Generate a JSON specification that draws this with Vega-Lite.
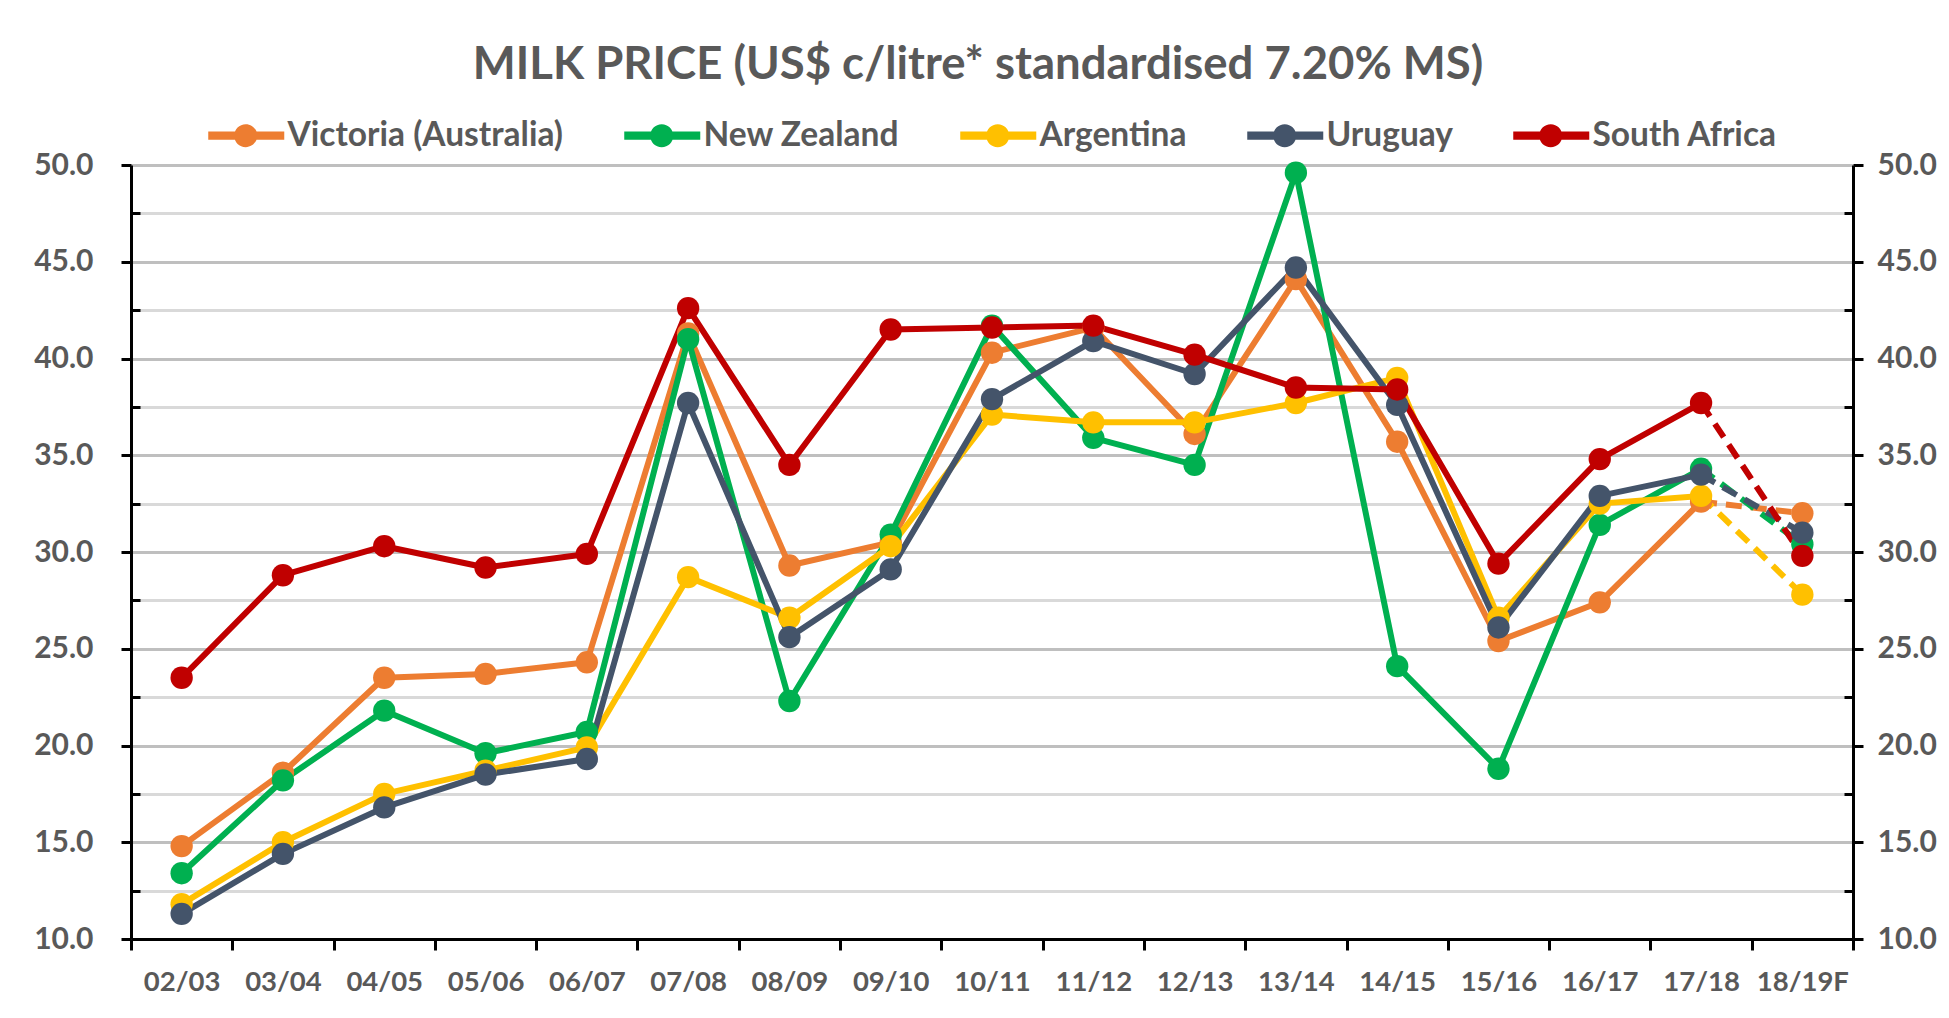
{
  "$schema": "https://vega.github.io/schema/vega-lite/v6.json",
  "width": 1722,
  "height": 774,
  "autosize": {"type": "none"},
  "padding": {"left": 131, "top": 165, "right": 96, "bottom": 79},
  "background": "white",
  "title": {
    "text": "MILK PRICE (US$ c/litre* standardised 7.20% MS)",
    "font": "Lato",
    "fontSize": 45.5,
    "fontWeight": "bold",
    "color": "#595959",
    "anchor": "middle",
    "frame": "group",
    "dx": -14,
    "offset": 30
  },
  "config": {
    "view": {"stroke": null},
    "axisX": {
      "title": null,
      "labelFont": "Lato",
      "labelFontSize": 27.5,
      "labelFontWeight": "bold",
      "labelColor": "#595959",
      "labelAngle": 0,
      "labelPadding": 18,
      "domainColor": "black",
      "domainWidth": 3,
      "tickColor": "black",
      "tickWidth": 3,
      "tickSize": 11,
      "tickBand": "extent",
      "grid": false
    }
  },
  "data": {
    "values": [
      {"s": "02/03", "c": "Victoria (Australia)", "v": 14.8},
      {"s": "03/04", "c": "Victoria (Australia)", "v": 18.6},
      {"s": "04/05", "c": "Victoria (Australia)", "v": 23.5},
      {"s": "05/06", "c": "Victoria (Australia)", "v": 23.7},
      {"s": "06/07", "c": "Victoria (Australia)", "v": 24.3},
      {"s": "07/08", "c": "Victoria (Australia)", "v": 41.3},
      {"s": "08/09", "c": "Victoria (Australia)", "v": 29.3},
      {"s": "09/10", "c": "Victoria (Australia)", "v": 30.5},
      {"s": "10/11", "c": "Victoria (Australia)", "v": 40.3},
      {"s": "11/12", "c": "Victoria (Australia)", "v": 41.6},
      {"s": "12/13", "c": "Victoria (Australia)", "v": 36.1},
      {"s": "13/14", "c": "Victoria (Australia)", "v": 44.1},
      {"s": "14/15", "c": "Victoria (Australia)", "v": 35.7},
      {"s": "15/16", "c": "Victoria (Australia)", "v": 25.4},
      {"s": "16/17", "c": "Victoria (Australia)", "v": 27.4},
      {"s": "17/18", "c": "Victoria (Australia)", "v": 32.6},
      {"s": "18/19F", "c": "Victoria (Australia)", "v": 32.0},
      {"s": "02/03", "c": "New Zealand", "v": 13.4},
      {"s": "03/04", "c": "New Zealand", "v": 18.2},
      {"s": "04/05", "c": "New Zealand", "v": 21.8},
      {"s": "05/06", "c": "New Zealand", "v": 19.6},
      {"s": "06/07", "c": "New Zealand", "v": 20.7},
      {"s": "07/08", "c": "New Zealand", "v": 41.0},
      {"s": "08/09", "c": "New Zealand", "v": 22.3},
      {"s": "09/10", "c": "New Zealand", "v": 30.9},
      {"s": "10/11", "c": "New Zealand", "v": 41.7},
      {"s": "11/12", "c": "New Zealand", "v": 35.9},
      {"s": "12/13", "c": "New Zealand", "v": 34.5},
      {"s": "13/14", "c": "New Zealand", "v": 49.6},
      {"s": "14/15", "c": "New Zealand", "v": 24.1},
      {"s": "15/16", "c": "New Zealand", "v": 18.8},
      {"s": "16/17", "c": "New Zealand", "v": 31.4},
      {"s": "17/18", "c": "New Zealand", "v": 34.3},
      {"s": "18/19F", "c": "New Zealand", "v": 30.4},
      {"s": "02/03", "c": "Argentina", "v": 11.8},
      {"s": "03/04", "c": "Argentina", "v": 15.0},
      {"s": "04/05", "c": "Argentina", "v": 17.5},
      {"s": "05/06", "c": "Argentina", "v": 18.7},
      {"s": "06/07", "c": "Argentina", "v": 19.9},
      {"s": "07/08", "c": "Argentina", "v": 28.7},
      {"s": "08/09", "c": "Argentina", "v": 26.6},
      {"s": "09/10", "c": "Argentina", "v": 30.3},
      {"s": "10/11", "c": "Argentina", "v": 37.1},
      {"s": "11/12", "c": "Argentina", "v": 36.7},
      {"s": "12/13", "c": "Argentina", "v": 36.7},
      {"s": "13/14", "c": "Argentina", "v": 37.7},
      {"s": "14/15", "c": "Argentina", "v": 39.0},
      {"s": "15/16", "c": "Argentina", "v": 26.6},
      {"s": "16/17", "c": "Argentina", "v": 32.5},
      {"s": "17/18", "c": "Argentina", "v": 32.9},
      {"s": "18/19F", "c": "Argentina", "v": 27.8},
      {"s": "02/03", "c": "Uruguay", "v": 11.3},
      {"s": "03/04", "c": "Uruguay", "v": 14.4},
      {"s": "04/05", "c": "Uruguay", "v": 16.8},
      {"s": "05/06", "c": "Uruguay", "v": 18.5},
      {"s": "06/07", "c": "Uruguay", "v": 19.3},
      {"s": "07/08", "c": "Uruguay", "v": 37.7},
      {"s": "08/09", "c": "Uruguay", "v": 25.6},
      {"s": "09/10", "c": "Uruguay", "v": 29.1},
      {"s": "10/11", "c": "Uruguay", "v": 37.9},
      {"s": "11/12", "c": "Uruguay", "v": 40.9},
      {"s": "12/13", "c": "Uruguay", "v": 39.2},
      {"s": "13/14", "c": "Uruguay", "v": 44.7},
      {"s": "14/15", "c": "Uruguay", "v": 37.6},
      {"s": "15/16", "c": "Uruguay", "v": 26.1},
      {"s": "16/17", "c": "Uruguay", "v": 32.9},
      {"s": "17/18", "c": "Uruguay", "v": 34.0},
      {"s": "18/19F", "c": "Uruguay", "v": 31.0},
      {"s": "02/03", "c": "South Africa", "v": 23.5},
      {"s": "03/04", "c": "South Africa", "v": 28.8},
      {"s": "04/05", "c": "South Africa", "v": 30.3},
      {"s": "05/06", "c": "South Africa", "v": 29.2},
      {"s": "06/07", "c": "South Africa", "v": 29.9},
      {"s": "07/08", "c": "South Africa", "v": 42.6},
      {"s": "08/09", "c": "South Africa", "v": 34.5},
      {"s": "09/10", "c": "South Africa", "v": 41.5},
      {"s": "10/11", "c": "South Africa", "v": 41.6},
      {"s": "11/12", "c": "South Africa", "v": 41.7},
      {"s": "12/13", "c": "South Africa", "v": 40.2},
      {"s": "13/14", "c": "South Africa", "v": 38.5},
      {"s": "14/15", "c": "South Africa", "v": 38.4},
      {"s": "15/16", "c": "South Africa", "v": 29.4},
      {"s": "16/17", "c": "South Africa", "v": 34.8},
      {"s": "17/18", "c": "South Africa", "v": 37.7},
      {"s": "18/19F", "c": "South Africa", "v": 29.8}
    ]
  },
  "encoding": {
    "x": {
      "field": "s",
      "type": "ordinal",
      "scale": {"type": "band", "paddingInner": 0, "paddingOuter": 0}
    },
    "y": {
      "field": "v",
      "type": "quantitative",
      "scale": {"domain": [10, 50], "nice": false, "zero": false}
    },
    "color": {
      "field": "c",
      "type": "nominal",
      "sort": null,
      "scale": {
        "domain": ["Victoria (Australia)", "New Zealand", "Argentina", "Uruguay", "South Africa"],
        "range": ["#ED7D31", "#00B050", "#FFC000", "#44546A", "#C00000"]
      },
      "legend": {
        "orient": "none",
        "legendX": 72,
        "legendY": -46.5,
        "direction": "horizontal",
        "title": null,
        "padding": 0,
        "symbolType": "M-1,-0.35H5.61V0.35H-1Z M1.26,0A1,1 0 1,1 3.26,0A1,1 0 1,1 1.26,0Z",
        "symbolSize": 529,
        "symbolStrokeWidth": 0,
        "symbolOpacity": 1,
        "labelOffset": 51,
        "columnPadding": 55,
        "labelFont": "Lato",
        "labelFontSize": 33.5,
        "labelFontWeight": "bold",
        "labelColor": "#595959",
        "labelLimit": 0
      }
    }
  },
  "layer": [
    {
      "transform": [{"filter": "datum.s !== '18/19F'"}],
      "mark": {"type": "line", "strokeWidth": 6, "strokeJoin": "round"},
      "encoding": {
        "y": {
          "field": "v",
          "type": "quantitative",
          "axis": {
            "orient": "left",
            "title": null,
            "values": [10, 12.5, 15, 17.5, 20, 22.5, 25, 27.5, 30, 32.5, 35, 37.5, 40, 42.5, 45, 47.5, 50],
            "format": ".1f",
            "labelExpr": "datum.value % 5 === 0 ? datum.label : ''",
            "labelFont": "Lato",
            "labelFontSize": 30,
            "labelFontWeight": "bold",
            "labelColor": "#595959",
            "labelPadding": 28,
            "domainColor": "black",
            "domainWidth": 3,
            "tickColor": "black",
            "tickWidth": 3,
            "tickSize": {"condition": {"test": "datum.value % 5 === 0", "value": 10}, "value": -9},
            "grid": true,
            "gridColor": {"condition": {"test": "datum.value % 5 === 0", "value": "#BFBFBF"}, "value": "#D9D9D9"},
            "gridWidth": 3
          }
        }
      }
    },
    {
      "transform": [{"filter": "datum.s === '17/18' || datum.s === '18/19F'"}],
      "mark": {"type": "line", "strokeWidth": 6, "strokeDash": [16, 9]},
      "encoding": {
        "y": {"field": "v", "type": "quantitative", "axis": null}
      }
    },
    {
      "mark": {"type": "point", "filled": true, "opacity": 1, "size": 500, "shape": "circle"},
      "encoding": {
        "y": {
          "field": "v",
          "type": "quantitative",
          "axis": {
            "orient": "right",
            "title": null,
            "values": [10, 12.5, 15, 17.5, 20, 22.5, 25, 27.5, 30, 32.5, 35, 37.5, 40, 42.5, 45, 47.5, 50],
            "format": ".1f",
            "labelExpr": "datum.value % 5 === 0 ? datum.label : ''",
            "labelFont": "Lato",
            "labelFontSize": 30,
            "labelFontWeight": "bold",
            "labelColor": "#595959",
            "labelPadding": 14,
            "domainColor": "black",
            "domainWidth": 3,
            "tickColor": "black",
            "tickWidth": 3,
            "tickSize": {"condition": {"test": "datum.value % 5 === 0", "value": 10}, "value": -9},
            "grid": false
          }
        }
      }
    }
  ],
  "resolve": {"axis": {"y": "independent"}}
}
